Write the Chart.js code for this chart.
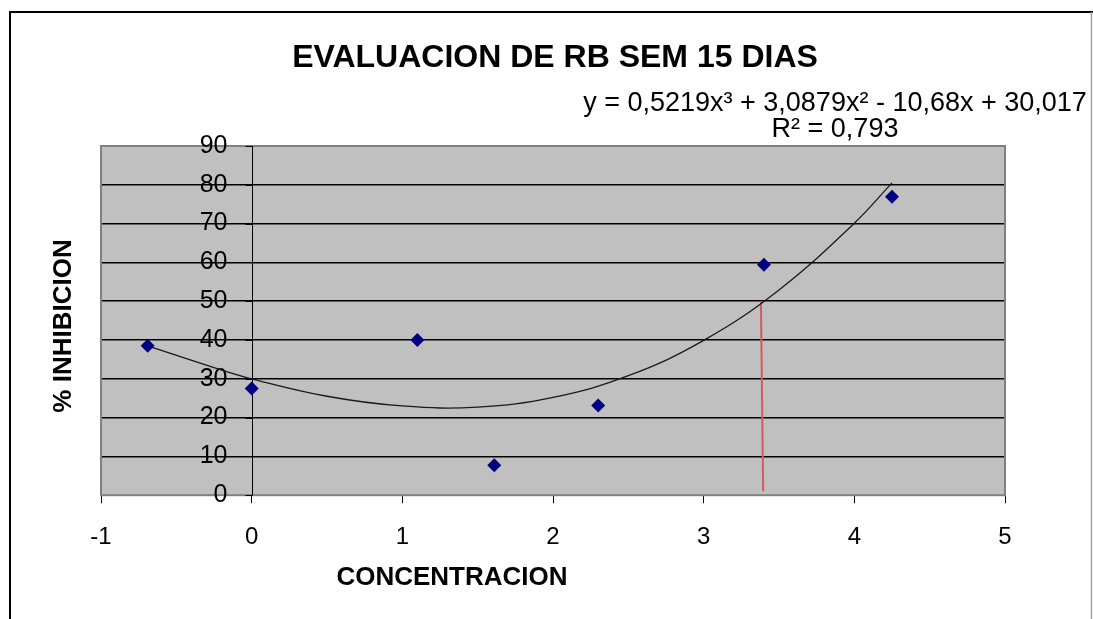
<!DOCTYPE html>
<html>
<head>
<meta charset="utf-8">
<script src="https://cdn.jsdelivr.net/npm/chart.js@4.4.1/dist/chart.umd.min.js"></script>
<style>
  html, body { margin: 0; padding: 0; background: #ffffff; }
  #wrap { width: 1093px; height: 619px; position: relative; }
</style>
</head>
<body>
<div id="wrap"><canvas id="c" width="1093" height="619"></canvas></div>
<script>
// ---- data ----
const chartTitle = 'EVALUACION DE RB SEM 15 DIAS';
const xTitle = 'CONCENTRACION';
const yTitle = '% INHIBICION';
const trendEquation = 'y = 0,5219x\u00B3 + 3,0879x\u00B2 - 10,68x + 30,017';
const trendR2 = 'R\u00B2 = 0,793';

const concentracion = [-0.69, 0, 1.10, 1.61, 2.30, 3.40, 4.25];
const inhibicion    = [38.5, 27.5, 40.0, 7.7, 23.1, 59.4, 76.9];

// polynomial trend line
const trendX = [-0.69, -0.25, 0, 0.5, 1, 1.5, 2, 2.5, 3, 3.5, 4, 4.25];
const trendY = [38.5, 32.9, 30.0, 25.5, 23.0, 22.7, 25.2, 30.8, 39.9, 52.9, 70.1, 80.5];

// red marker line (from curve at 50% down to the axis)
const markerX = [3.38, 3.395];
const markerY = [50, 1];

const xTickValues = [-1, 0, 1, 2, 3, 4, 5];
const yTickValues = [0, 10, 20, 30, 40, 50, 60, 70, 80, 90];

const FONT = '"Liberation Sans", Arial, Helvetica, sans-serif';

const toXY = (xs, ys) => xs.map((x, i) => ({ x: x, y: ys[i] }));

const decorPlugin = {
  id: 'decor',
  beforeDraw(chart) {
    const ctx = chart.ctx;
    const a = chart.chartArea;
    ctx.save();
    ctx.fillStyle = '#ffffff';
    ctx.fillRect(0, 0, chart.width, chart.height);
    // outer frame
    ctx.strokeStyle = '#000000';
    ctx.lineWidth = 2;
    ctx.beginPath();
    ctx.moveTo(10, 619);
    ctx.lineTo(10, 12);
    ctx.lineTo(1093, 12);
    ctx.stroke();
    ctx.strokeStyle = '#a0a0a0';
    ctx.lineWidth = 1.5;
    ctx.beginPath();
    ctx.moveTo(1091.5, 12);
    ctx.lineTo(1091.5, 619);
    ctx.stroke();
    // plot area background
    ctx.fillStyle = '#c0c0c0';
    ctx.fillRect(a.left, a.top, a.right - a.left, a.bottom - a.top);
    ctx.restore();
  },
  beforeDatasetsDraw(chart) {
    const ctx = chart.ctx;
    const a = chart.chartArea;
    const xs = chart.scales.x;
    const ys = chart.scales.y;
    ctx.save();
    // plot area border
    ctx.strokeStyle = '#808080';
    ctx.lineWidth = 2;
    ctx.strokeRect(a.left, a.top, a.right - a.left, a.bottom - a.top);
    // y axis line at x = 0
    const x0 = Math.round(xs.getPixelForValue(0)) + 0.5;
    ctx.strokeStyle = '#000000';
    ctx.lineWidth = 1;
    ctx.beginPath();
    ctx.moveTo(x0, a.top);
    ctx.lineTo(x0, a.bottom);
    ctx.stroke();
    // y tick marks and labels
    ctx.fillStyle = '#000000';
    ctx.font = '25px ' + FONT;
    ctx.textAlign = 'right';
    ctx.textBaseline = 'middle';
    yTickValues.forEach(v => {
      const py = Math.round(ys.getPixelForValue(v)) + 0.5;
      ctx.beginPath();
      ctx.moveTo(x0 - 7, py);
      ctx.lineTo(x0, py);
      ctx.stroke();
      ctx.fillText(String(v), x0 - 25, ys.getPixelForValue(v));
    });
    ctx.restore();
  },
  afterDraw(chart) {
    const ctx = chart.ctx;
    ctx.save();
    ctx.fillStyle = '#000000';
    ctx.textBaseline = 'alphabetic';
    // title
    ctx.font = 'bold 32px ' + FONT;
    ctx.textAlign = 'center';
    ctx.fillText(chartTitle, 555, 67);
    // trend equation
    ctx.font = '27px ' + FONT;
    ctx.fillText(trendEquation, 835, 111);
    ctx.fillText(trendR2, 835, 137);
    // axis titles
    ctx.font = 'bold 26px ' + FONT;
    ctx.fillText(xTitle, 452, 585);
    ctx.translate(71, 326);
    ctx.rotate(-Math.PI / 2);
    ctx.fillText(yTitle, 0, 0);
    ctx.restore();
  }
};

new Chart(document.getElementById('c'), {
  type: 'scatter',
  data: {
    datasets: [
      {
        label: 'marker',
        data: toXY(markerX, markerY),
        showLine: true,
        borderColor: '#d55a5a',
        borderWidth: 2,
        pointRadius: 0,
        order: 3
      },
      {
        label: 'trend',
        data: toXY(trendX, trendY),
        showLine: true,
        borderColor: '#1a1a1a',
        borderWidth: 1.3,
        tension: 0.4,
        pointRadius: 0,
        order: 2
      },
      {
        label: '% inhibicion',
        data: toXY(concentracion, inhibicion),
        pointStyle: 'rectRot',
        pointRadius: 7,
        pointBackgroundColor: '#000080',
        pointBorderColor: '#000080',
        pointBorderWidth: 0,
        showLine: false,
        order: 1
      }
    ]
  },
  options: {
    responsive: false,
    animation: false,
    devicePixelRatio: 1,
    layout: { padding: { left: 101, right: 88, top: 146, bottom: 47 } },
    plugins: {
      legend: { display: false },
      title: { display: false },
      tooltip: { enabled: false }
    },
    scales: {
      x: {
        type: 'linear',
        position: 'bottom',
        min: -1,
        max: 5,
        afterBuildTicks: (axis) => { axis.ticks = xTickValues.map(v => ({ value: v })); },
        ticks: {
          color: '#000000',
          font: { family: FONT, size: 24 },
          padding: 20,
          callback: (v) => String(v)
        },
        grid: {
          drawOnChartArea: false,
          drawTicks: true,
          tickLength: 8,
          color: '#000000',
          lineWidth: 1
        },
        border: { display: false }
      },
      y: {
        type: 'linear',
        position: 'left',
        min: 0,
        max: 90,
        afterBuildTicks: (axis) => { axis.ticks = yTickValues.map(v => ({ value: v })); },
        ticks: { display: false },
        grid: {
          drawTicks: false,
          color: (c) => (c.tick && (c.tick.value === 0 || c.tick.value === 90)) ? 'rgba(0,0,0,0)' : '#000000',
          lineWidth: 1.5
        },
        border: { display: false }
      }
    }
  },
  plugins: [decorPlugin]
});
</script>
</body>
</html>
